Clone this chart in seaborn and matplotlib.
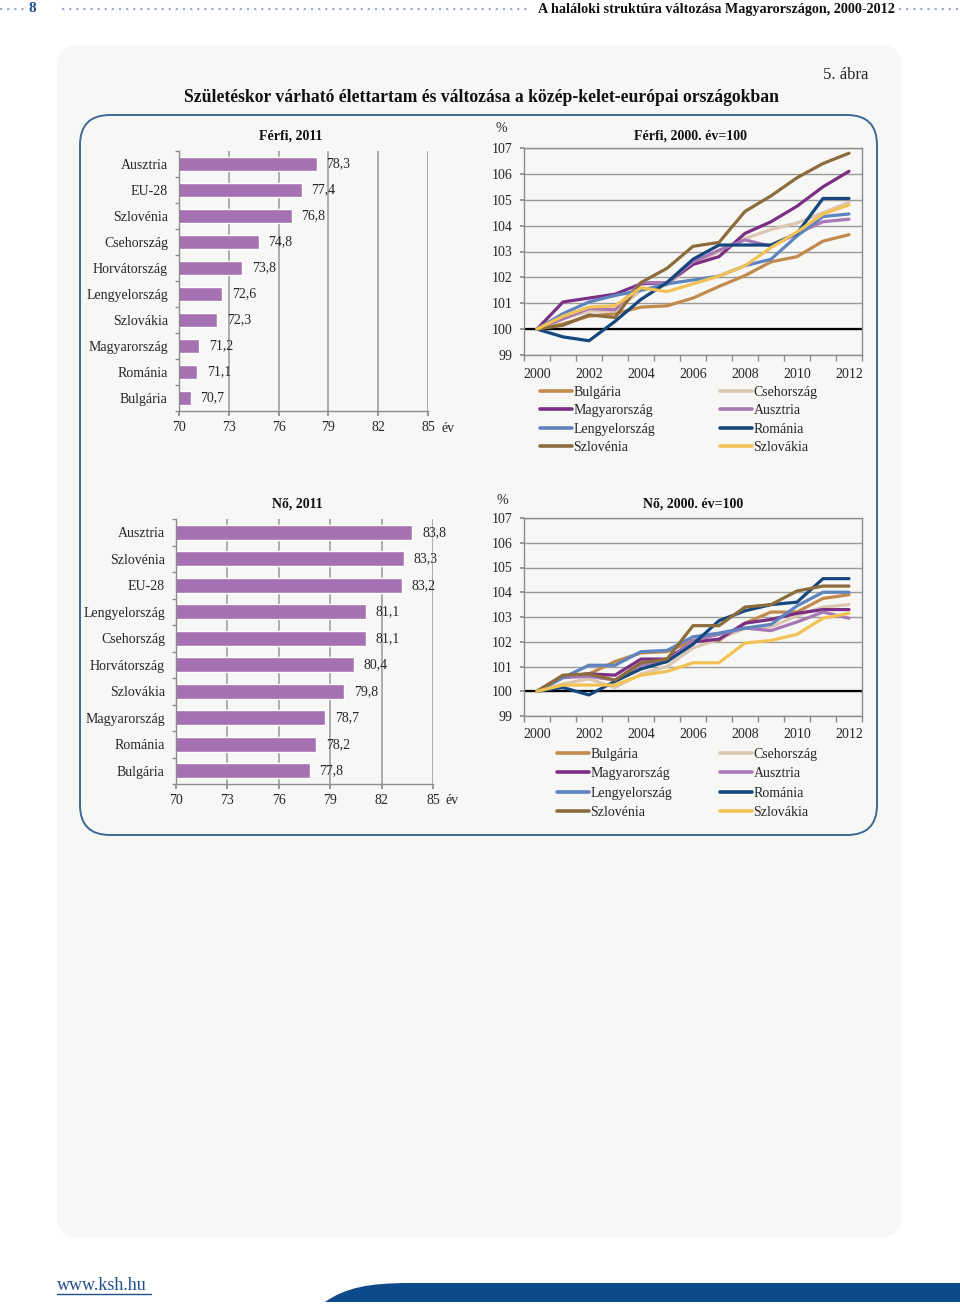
import numpy as np
import pandas as pd
import seaborn as sns
import matplotlib.pyplot as plt
from matplotlib.patches import FancyBboxPatch, PathPatch
from matplotlib.path import Path

# --- adatok ---------------------------------------------------------------
ferfi_orszagok = ['Ausztria', 'EU-28', 'Szlovénia', 'Csehország', 'Horvátország',
                  'Lengyelország', 'Szlovákia', 'Magyarország', 'Románia', 'Bulgária']
ferfi_varhato = [78.3, 77.4, 76.8, 74.8, 73.8, 72.6, 72.3, 71.2, 71.1, 70.7]

no_orszagok = ['Ausztria', 'Szlovénia', 'EU-28', 'Lengyelország', 'Csehország',
               'Horvátország', 'Szlovákia', 'Magyarország', 'Románia', 'Bulgária']
no_varhato = [83.8, 83.3, 83.2, 81.1, 81.1, 80.4, 79.8, 78.7, 78.2, 77.8]

evek = list(range(2000, 2013))
x_cimkek = [2000, 2002, 2004, 2006, 2008, 2010, 2012]

# Ferfi, 2000 = 100
f_bulgaria = [100, 100.2, 100.5, 100.6, 100.85, 100.9, 101.2, 101.65, 102.07, 102.6, 102.8, 103.4, 103.65]
f_csehorszag = [100, 100.4, 100.7, 100.7, 101.5, 101.7, 102.5, 103.0, 103.5, 103.85, 104.1, 104.5, 104.9]
f_magyarorszag = [100, 101.05, 101.2, 101.35, 101.75, 101.8, 102.5, 102.8, 103.7, 104.15, 104.75, 105.5, 106.1]
f_ausztria = [100, 100.4, 100.8, 100.75, 101.8, 101.8, 102.6, 103.05, 103.45, 103.2, 103.7, 104.15, 104.25]
f_lengyelorszag = [100, 100.6, 101.05, 101.3, 101.5, 101.75, 101.9, 102.05, 102.45, 102.7, 103.6, 104.35, 104.45]
f_romania = [100, 99.7, 99.55, 100.3, 101.15, 101.8, 102.7, 103.25, 103.25, 103.25, 103.7, 105.05, 105.05]
f_szlovenia = [100, 100.15, 100.55, 100.45, 101.8, 102.35, 103.2, 103.35, 104.55, 105.15, 105.85, 106.4, 106.8]
f_szlovakia = [100, 100.5, 100.85, 100.9, 101.6, 101.45, 101.75, 102.05, 102.45, 103.15, 103.75, 104.45, 104.8]

# No, 2000 = 100
n_bulgaria = [100, 100.6, 100.7, 101.2, 101.55, 101.6, 102.05, 102.05, 102.75, 103.2, 103.2, 103.75, 103.9]
n_csehorszag = [100, 100.3, 100.5, 100.15, 100.7, 101.0, 101.75, 102.1, 102.55, 102.6, 103.05, 103.4, 103.5]
n_magyarorszag = [100, 100.6, 100.7, 100.65, 101.3, 101.3, 102.0, 102.1, 102.75, 102.9, 103.15, 103.3, 103.3]
n_ausztria = [100, 100.55, 100.6, 100.45, 101.05, 101.2, 102.05, 102.3, 102.55, 102.45, 102.8, 103.2, 102.95]
n_lengyelorszag = [100, 100.55, 101.05, 101.05, 101.6, 101.65, 102.2, 102.35, 102.55, 102.7, 103.45, 104.0, 104.0]
n_romania = [100, 100.15, 99.85, 100.4, 100.9, 101.2, 101.9, 102.85, 103.25, 103.5, 103.6, 104.55, 104.55]
n_szlovenia = [100, 100.65, 100.7, 100.45, 101.15, 101.3, 102.65, 102.65, 103.4, 103.5, 104.05, 104.25, 104.25]
n_szlovakia = [100, 100.25, 100.25, 100.25, 100.65, 100.8, 101.15, 101.15, 101.95, 102.05, 102.3, 102.95, 103.15]

sorozatok = ['Bulgária', 'Csehország', 'Magyarország', 'Ausztria',
             'Lengyelország', 'Románia', 'Szlovénia', 'Szlovákia']
ferfi_sorok = [f_bulgaria, f_csehorszag, f_magyarorszag, f_ausztria,
               f_lengyelorszag, f_romania, f_szlovenia, f_szlovakia]
no_sorok = [n_bulgaria, n_csehorszag, n_magyarorszag, n_ausztria,
            n_lengyelorszag, n_romania, n_szlovenia, n_szlovakia]

szinek = {'Bulgária': '#C28A4C', 'Csehország': '#DCC6B2', 'Magyarország': '#7A2E84',
          'Ausztria': '#A878B6', 'Lengyelország': '#5E84C0', 'Románia': '#15477E',
          'Szlovénia': '#8C6C3C', 'Szlovákia': '#F2C255'}
BAR = '#A571B2'
GRID = '#999999'
TXT = '#262626'

W, H = 960, 1308

sns.set_theme(style='white')
plt.rcParams['font.family'] = ['Liberation Serif', 'DejaVu Serif']

fig = plt.figure(figsize=(W / 100, H / 100), dpi=100)
fig.patch.set_facecolor('white')

bg = fig.add_axes([0, 0, 1, 1])
bg.set_xlim(0, W)
bg.set_ylim(H, 0)
bg.axis('off')


def rect(x0, y0, x1, y1):
    return [x0 / W, 1 - y1 / H, (x1 - x0) / W, (y1 - y0) / H]


# panel es keret
bg.add_patch(FancyBboxPatch((57, 45), 845, 1192, boxstyle='round,pad=0,rounding_size=22',
                            fc='#F7F7F5', ec='none'))
bg.add_patch(FancyBboxPatch((80, 115), 797, 720, boxstyle='round,pad=0,rounding_size=30',
                            fc='none', ec='#3C6A98', lw=1.4))

# fejlec
dots = dict(ls=(0, (1, 2.2)), color='#9AAEC6', lw=1.6)
bg.plot([0, 24], [9, 9], **dots)
bg.plot([62, 530], [9, 9], **dots)
bg.plot([899, 960], [9, 9], **dots)
bg.text(32, 9, '8', color='#1F4E8C', fontweight='bold', fontsize=11, ha='center', va='center')
bg.text(895, 9, 'A haláloki struktúra változása Magyarországon, 2000-2012', ha='right',
        va='center', fontweight='bold', fontsize=10.2, color='#111111')

bg.text(868, 75, '5. ábra', ha='right', va='center', fontsize=12, color=TXT)
bg.text(481, 97, 'Születéskor várható élettartam és változása a közép-kelet-európai országokban',
        ha='center', va='center', fontweight='bold', fontsize=12.7, color='#111111')

# lablec
bg.text(57, 1285, 'www.ksh.hu', color='#1F4E8C', fontsize=13, va='center', ha='left')
bg.plot([57, 151], [1294, 1294], color='#1F4E8C', lw=1)
band = Path([(325, 1302), (345, 1288), (368, 1283), (410, 1283), (960, 1283), (960, 1302), (325, 1302)],
            [Path.MOVETO, Path.CURVE4, Path.CURVE4, Path.CURVE4, Path.LINETO, Path.LINETO, Path.CLOSEPOLY])
bg.add_patch(PathPatch(band, fc='#0D4A8A', ec='none'))


def bar_panel(box, orszagok, ertekek, cim, cim_xy, ev_xy):
    ax = fig.add_axes(rect(*box))
    ax.patch.set_alpha(0)
    df = pd.DataFrame({'orszag': orszagok, 'ev': ertekek})
    sns.barplot(data=df, x='ev', y='orszag', color=BAR, saturation=1, width=0.55,
                orient='h', ax=ax)
    ax.set_xlim(70, 85)
    ax.set_ylim(len(orszagok) - 0.5, -0.5)
    ax.set_xticks(range(70, 86, 3))
    ax.set_yticks(np.arange(-0.5, len(orszagok), 1), minor=True)
    ax.xaxis.grid(True, color=GRID, lw=1.1, ls='-')
    ax.set_axisbelow(True)
    for s in ['top', 'right']:
        ax.spines[s].set_visible(False)
    for s in ['left', 'bottom']:
        ax.spines[s].set_color('#8C8C8C')
        ax.spines[s].set_linewidth(1)
    ax.tick_params(axis='y', which='major', length=0, pad=8, labelsize=10, labelcolor=TXT)
    ax.tick_params(axis='y', which='minor', left=True, length=3, color='#8C8C8C', width=1)
    ax.tick_params(axis='x', bottom=True, length=3.5, color='#8C8C8C', pad=4, labelsize=10,
                   labelcolor=TXT)
    ax.set_xlabel('')
    ax.set_ylabel('')
    ax.bar_label(ax.containers[0], labels=[f'{v:.1f}'.replace('.', ',') for v in ertekek],
                 padding=7, fontsize=10, color=TXT)
    bg.text(*cim_xy, cim, ha='center', va='center', fontweight='bold', fontsize=10, color='#111111')
    bg.text(*ev_xy, 'év', ha='left', va='center', fontsize=10, color=TXT)
    return ax


def line_panel(box, sorok, cim, cim_xy, pct_xy, leg_x1, leg_x2, leg_y, lsp):
    ax = fig.add_axes(rect(*box))
    ax.patch.set_alpha(0)
    df = pd.DataFrame([(nev, ev, v) for nev, sor in zip(sorozatok, sorok) for ev, v in zip(evek, sor)],
                      columns=['orszag', 'ev', 'ertek'])
    ax.axhline(100, color='black', lw=1.6, zorder=1.8)
    sns.lineplot(data=df, x='ev', y='ertek', hue='orszag', hue_order=sorozatok, palette=szinek,
                 linewidth=2.3, ax=ax, zorder=2)
    leg = ax.get_legend()
    handles = list(leg.legend_handles)
    labels = [t.get_text() for t in leg.get_texts()]
    leg.remove()
    for h in handles:
        h.set_linewidth(2.6)
    ax.set_xlim(1999.5, 2012.5)
    ax.set_ylim(99, 107)
    ax.set_xticks(x_cimkek)
    ax.set_xticks(np.arange(1999.5, 2013, 1), minor=True)
    ax.set_yticks(range(99, 108))
    ax.yaxis.grid(True, color=GRID, lw=1)
    for s in ax.spines.values():
        s.set_color('#8C8C8C')
        s.set_linewidth(1)
    ax.tick_params(axis='x', which='major', length=0, pad=9, labelsize=10, labelcolor=TXT)
    ax.tick_params(axis='x', which='minor', bottom=True, length=4, color='#8C8C8C', width=1)
    ax.tick_params(axis='y', left=True, length=3, color='#8C8C8C', pad=5, labelsize=10,
                   labelcolor=TXT)
    ax.set_xlabel('')
    ax.set_ylabel('')
    bg.text(*cim_xy, cim, ha='center', va='center', fontweight='bold', fontsize=10, color='#111111')
    bg.text(*pct_xy, '%', ha='center', va='center', fontsize=10, color=TXT)
    kw = dict(loc='upper left', bbox_transform=fig.transFigure, frameon=False, borderpad=0,
              borderaxespad=0, handlelength=2.3, handletextpad=0.12, labelspacing=lsp,
              fontsize=10, labelcolor=TXT)
    bal = [0, 2, 4, 6]
    jobb = [1, 3, 5, 7]
    l1 = ax.legend([handles[i] for i in bal], [labels[i] for i in bal],
                   bbox_to_anchor=(leg_x1 / W, 1 - leg_y / H), **kw)
    ax.add_artist(l1)
    ax.legend([handles[i] for i in jobb], [labels[i] for i in jobb],
              bbox_to_anchor=(leg_x2 / W, 1 - leg_y / H), **kw)
    return ax


bar_panel((179, 151, 428, 411), ferfi_orszagok, ferfi_varhato, 'Férfi, 2011', (291, 136), (441, 428))
bar_panel((176, 519, 433, 784), no_orszagok, no_varhato, 'Nő, 2011', (297, 504), (446, 800))

line_panel((524, 148, 862, 355), ferfi_sorok, 'Férfi, 2000. év=100', (690, 136), (501, 128),
           540, 720, 386, 0.38)
line_panel((524, 518, 862, 716), no_sorok, 'Nő, 2000. év=100', (693, 504), (502, 500),
           557, 720, 748, 0.45)

fig.savefig('out.png', dpi=100, facecolor='white')
